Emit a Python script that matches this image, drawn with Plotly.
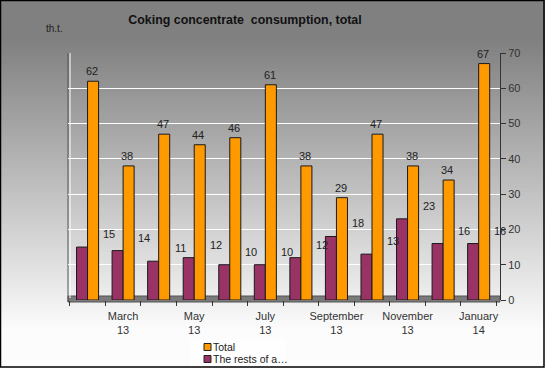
import plotly.graph_objects as go

categories = ["February 13", "March 13", "April 13", "May 13", "June 13", "July 13",
              "August 13", "September 13", "October 13", "November 13", "December 13", "January 14"]
total = [62, 38, 47, 44, 46, 61, 38, 29, 47, 38, 34, 67]
rests = [15, 14, 11, 12, 10, 10, 12, 18, 13, 23, 16, 16]
series_names = ["Total", "The rests of a…"]
series_colors = ["#FF9900", "#993366"]
tick_positions = [1, 3, 5, 7, 9, 11]
tick_labels = ["March<br>13", "May<br>13", "July<br>13", "September<br>13", "November<br>13", "January<br>14"]
y_ticks = [0, 10, 20, 30, 40, 50, 60, 70]

W, H = 545, 368
L, R, T, B = 68, 45, 53, 68
PW, PH = W - L - R, H - T - B

xs = list(range(len(categories)))
FONT = "Liberation Sans, Arial, sans-serif"

fig = go.Figure()
fig.add_trace(go.Bar(x=xs, y=rests, name=series_names[1], marker=dict(color=series_colors[1], line=dict(color="#1a1a1a", width=1)),
                     hovertext=categories))
fig.add_trace(go.Bar(x=xs, y=total, name=series_names[0], marker=dict(color=series_colors[0], line=dict(color="#1a1a1a", width=1)),
                     hovertext=categories))

shapes = []
px2x = lambda p: (p - L) / PW
px2y = lambda p: (H - B - p) / PH
N = 92
top_g, bot_g = 40, 330
for k in range(N):
    y0p = k * H / N
    y1p = (k + 1) * H / N + 1.0
    mid = (k + 0.5) * H / N
    t = min(max((mid - top_g) / (bot_g - top_g), 0), 1)
    g = int(round(128 + t * (252 - 128)))
    shapes.append(dict(type="rect", xref="paper", yref="paper", x0=px2x(0), x1=px2x(W),
                       y0=px2y(y1p), y1=px2y(y0p), fillcolor=f"rgb({g},{g},{g})", line=dict(width=0), layer="below"))
# floor
shapes.append(dict(type="rect", xref="paper", yref="paper", x0=0, x1=1, y0=px2y(302), y1=px2y(296),
                   fillcolor="#7a7a7a", line=dict(color="#555555", width=1), layer="below"))
# left wall
shapes.append(dict(type="line", xref="paper", yref="paper", x0=0, x1=0, y0=px2y(302), y1=1,
                   line=dict(color="#555555", width=1), layer="below"))
shapes.append(dict(type="line", xref="paper", yref="paper", x0=px2x(L + 2), x1=px2x(L + 2), y0=px2y(298), y1=1,
                   line=dict(color="#ffffff", width=1), layer="below"))
# legend box
shapes.append(dict(type="rect", xref="paper", yref="paper", x0=px2x(190), x1=px2x(286), y0=px2y(366), y1=px2y(339),
                   fillcolor="rgba(255,255,255,0.55)", line=dict(width=0), layer="below"))
# legend swatches
for j, c in enumerate(series_colors):
    yc = 347 + 12 * j
    shapes.append(dict(type="rect", xref="paper", yref="paper", x0=px2x(204), x1=px2x(211), y0=px2y(yc + 3.5), y1=px2y(yc - 3.5),
                       fillcolor=c, line=dict(color="#222222", width=1), layer="above"))
# border
shapes.append(dict(type="rect", xref="paper", yref="paper", x0=px2x(0.5), x1=px2x(W - 1), y0=px2y(H - 1), y1=px2y(0.5),
                   line=dict(color="#000000", width=1.5), fillcolor="rgba(0,0,0,0)", layer="above"))

annotations = []
for i, v in enumerate(total):
    annotations.append(dict(x=i + 0.12, y=v, xref="x", yref="y", text=str(v), showarrow=False,
                            yshift=10, font=dict(family=FONT, size=11, color="#222222")))
for i, v in enumerate(rests):
    annotations.append(dict(x=i + 0.6, y=v, xref="x", yref="y", text=str(v), showarrow=False,
                            yshift=13, font=dict(family=FONT, size=11, color="#222222")))
annotations.append(dict(x=px2x(44), y=px2y(28), xref="paper", yref="paper", text="th.t.", showarrow=False,
                        xanchor="left", yanchor="middle", font=dict(family=FONT, size=10, color="#222222")))
for j, nm in enumerate(series_names):
    annotations.append(dict(x=px2x(212), y=px2y(347 + 12 * j), xref="paper", yref="paper", text=nm, showarrow=False,
                            xanchor="left", yanchor="middle", xshift=-1, font=dict(family=FONT, size=10.5, color="#222222")))

fig.update_layout(
    width=W, height=H,
    margin=dict(l=L, r=R, t=T, b=B, autoexpand=False),
    paper_bgcolor="#808080", plot_bgcolor="rgba(0,0,0,0)",
    barmode="group", bargap=0.38, bargroupgap=0,
    title=dict(text="<b>Coking concentrate  consumption, total</b>", x=245 / W, xref="container", xanchor="center",
               y=1 - 20 / H, yanchor="middle", font=dict(family=FONT, size=12.4, color="#111111")),
    xaxis=dict(range=[-0.55, 11.6], tickvals=tick_positions, ticktext=tick_labels, ticks="",
               showgrid=False, zeroline=False, showline=False, ticklabelstandoff=8,
               tickfont=dict(family=FONT, size=11, color="#333333"),
               minor=dict(ticks="outside", tick0=-0.5, dtick=1, ticklen=5, tickcolor="#333333", showgrid=False)),
    yaxis=dict(range=[0, 70], side="right", tickvals=y_ticks, showgrid=True, gridcolor="#ffffff", gridwidth=1.2,
               zeroline=False, showline=True, linecolor="#333333", linewidth=1, ticks="outside", ticklen=5,
               tickcolor="#333333", tickfont=dict(family=FONT, size=11, color="#333333")),
    shapes=shapes, annotations=annotations, showlegend=False,
)

fig.write_html("out.html", config={"displayModeBar": False},
               post_script="document.body.style.margin='0';document.body.style.overflow='hidden';")
